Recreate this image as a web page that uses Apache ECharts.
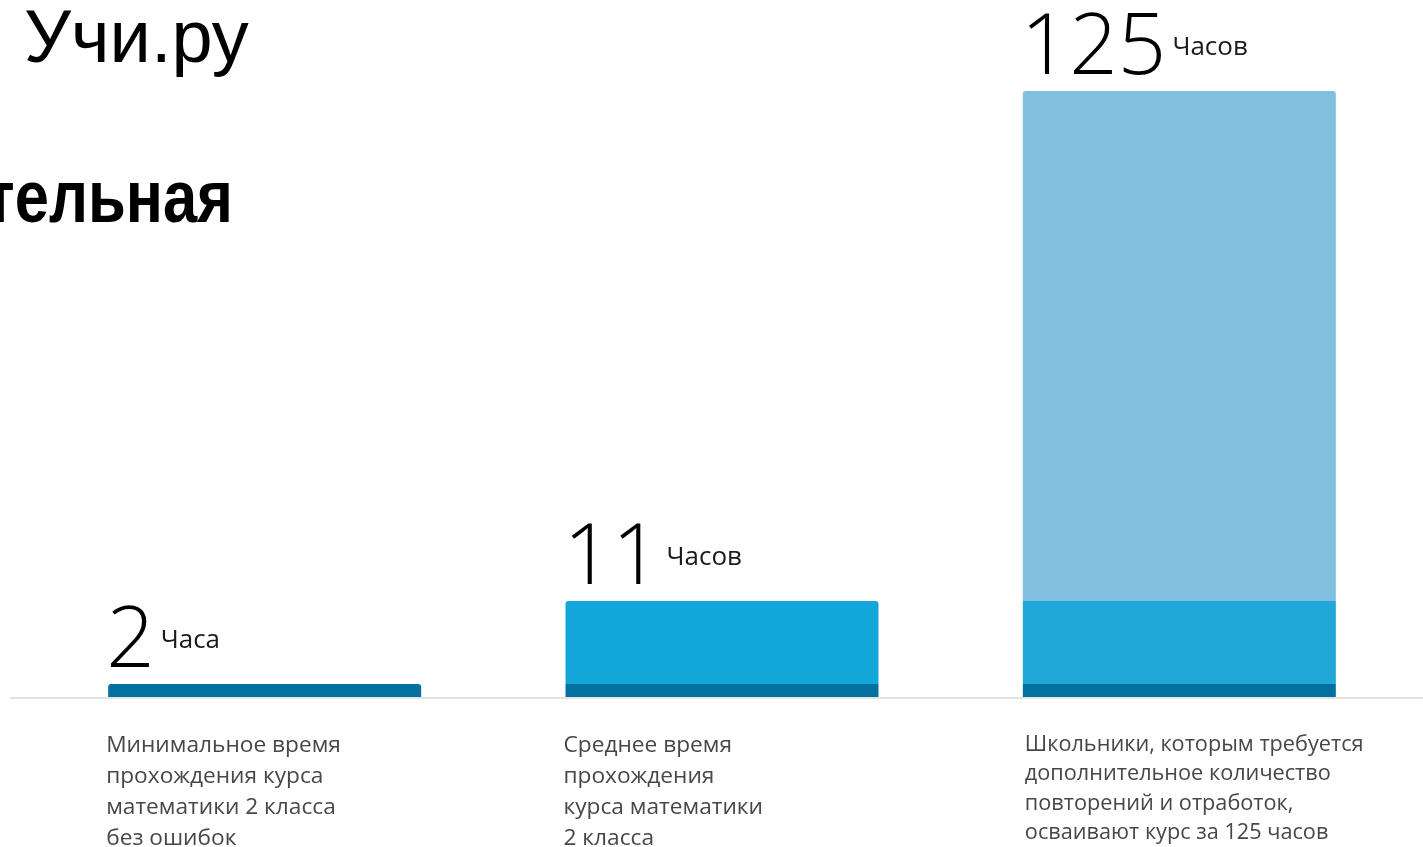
<!DOCTYPE html>
<html>
<head>
<meta charset="utf-8">
<script src="https://cdn.jsdelivr.net/npm/echarts@6/dist/echarts.min.js"></script>
<style>
  html, body { margin: 0; padding: 0; background: #fff; }
  #chart { width: 1423px; height: 847px; }
</style>
</head>
<body>
<div id="chart"></div>
<script>
const categories = ['min', 'avg', 'extra']
const hours = [2, 11, 125]
const hourUnits = ['Часа', 'Часов', 'Часов']
const descriptions = [
  'Минимальное время\nпрохождения курса\nматематики 2 класса\nбез ошибок',
  'Среднее время\nпрохождения\nкурса математики\n2 класса',
  'Школьники, которым требуется\nдополнительное количество\nповторений и отработок,\nосваивают курс за 125 часов',
]
// bar segments as drawn on the slide (illustrative, not to scale with hours)
const baseSegment = [13, 13, 13]
const middleSegment = [0, 83, 83]
const upperSegment = [0, 0, 510]

const baseColor = '#03719f'
const middleColors = ['#13a6d8', '#13a6d8', '#21a7d8']
const upperColor = '#80bfdf'

const segments = [baseSegment, middleSegment, upperSegment]
const totals = categories.map((_, i) => segments.reduce((s, seg) => s + seg[i], 0))

// index of the highest non-empty segment in each bar -> gets rounded corners
const topIndex = categories.map((_, i) => {
  let k = 0
  segments.forEach((seg, j) => { if (seg[i] > 0) k = j })
  return k
})

function segItems(seg, j, colorOf) {
  return seg.map((v, i) => ({
    value: v,
    itemStyle: {
      color: colorOf(i),
      borderRadius: topIndex[i] === j ? [3, 3, 0, 0] : 0,
    },
  }))
}

const chart = echarts.init(document.getElementById('chart'))

chart.setOption({
  animation: false,
  title: {
    text: 'Учи.ру',
    left: 24,
    top: 5,
    padding: 0,
    textStyle: { fontFamily: 'Liberation Sans', fontWeight: 'normal', fontSize: 74, color: '#000' },
  },
  graphic: [
    {
      // cut-off heading from the slide behind the chart
      type: 'text',
      x: 233,
      y: 201,
      scaleX: 0.82,
      style: {
        text: 'тельная',
        fontFamily: 'Liberation Sans',
        fontWeight: 'bold',
        fontSize: 75,
        fill: '#000',
        align: 'right',
        verticalAlign: 'middle',
      },
    },
    {
      type: 'line',
      shape: { x1: 10, y1: 698, x2: 1423, y2: 698 },
      style: { stroke: '#e6e2e2', lineWidth: 2 },
      z: 0,
    },
  ],
  grid: { left: 36, right: 15, top: 91, bottom: 150 },
  xAxis: {
    type: 'category',
    data: categories,
    axisLine: { show: false },
    axisTick: { show: false },
    axisLabel: { show: false },
  },
  yAxis: {
    type: 'value',
    min: 0,
    max: Math.max(...totals),
    show: false,
    splitLine: { show: false },
  },
  series: [
    {
      name: 'base',
      type: 'bar',
      stack: 'h',
      barWidth: 313,
      barGap: '-100%',
      data: segItems(baseSegment, 0, () => baseColor).map((d, i) => ({
        ...d,
        label: i === 2 ? { position: [2, 46], fontSize: 21.7, lineHeight: 29.4 } : {},
      })),
      label: {
        show: true,
        position: [-2, 46],
        align: 'left',
        verticalAlign: 'top',
        fontFamily: 'Open Sans',
        fontSize: 22.7,
        lineHeight: 31,
        color: '#474747',
        formatter: (p) => descriptions[p.dataIndex],
      },
      silent: true,
    },
    {
      name: 'middle',
      type: 'bar',
      stack: 'h',
      barWidth: 313,
      barGap: '-100%',
      data: segItems(middleSegment, 1, (i) => middleColors[i]),
      silent: true,
    },
    {
      name: 'upper',
      type: 'bar',
      stack: 'h',
      barWidth: 313,
      barGap: '-100%',
      data: segItems(upperSegment, 2, () => upperColor),
      silent: true,
    },
    {
      name: 'hours',
      type: 'bar',
      barWidth: 313,
      barGap: '-100%',
      data: totals,
      itemStyle: { color: 'rgba(0,0,0,0)' },
      silent: true,
      z: 5,
      label: {
        show: true,
        position: [-2, 1],
        align: 'left',
        verticalAlign: 'bottom',
        formatter: (p) => `{n|${hours[p.dataIndex]}}{u|${hourUnits[p.dataIndex]}}`,
        rich: {
          n: { fontFamily: 'Open Sans', fontWeight: 300, fontSize: 85, lineHeight: 85, color: '#000' },
          u: { fontFamily: 'Open Sans', fontSize: 26, color: '#1a1a1a', padding: [0, 0, 4, 6] },
        },
      },
    },
  ],
})
</script>
</body>
</html>
